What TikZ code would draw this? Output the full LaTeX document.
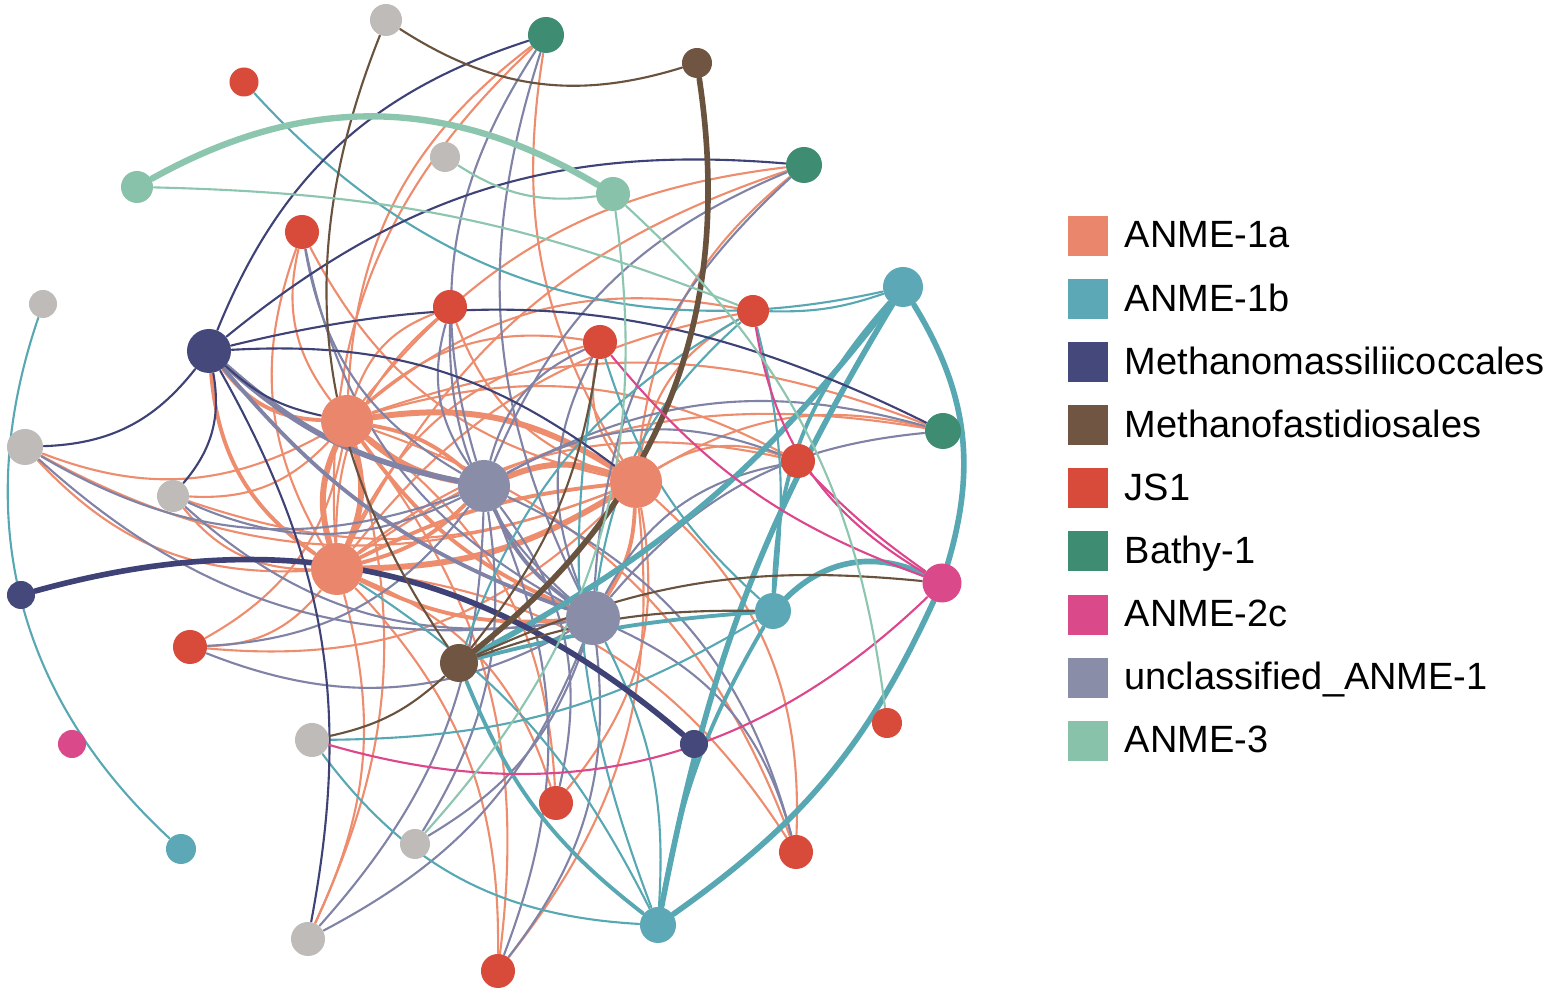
\documentclass[tikz,border=0pt]{standalone}
\usepackage{fontspec}
\setmainfont{Liberation Sans}
\pgfdeclarelayer{bg}
\pgfsetlayers{bg,main}
\definecolor{cSa}{RGB}{233,134,108}
\definecolor{cTl}{RGB}{92,168,182}
\definecolor{cNv}{RGB}{68,72,122}
\definecolor{cMf}{RGB}{112,86,66}
\definecolor{cJs}{RGB}{216,74,58}
\definecolor{cBt}{RGB}{62,140,114}
\definecolor{cPk}{RGB}{218,74,138}
\definecolor{cUc}{RGB}{138,141,168}
\definecolor{cA3}{RGB}{137,194,171}
\definecolor{cGr}{RGB}{190,187,185}
\definecolor{eSa}{RGB}{238,140,110}
\definecolor{eTl}{RGB}{88,168,180}
\definecolor{eNv}{RGB}{62,66,118}
\definecolor{eMf}{RGB}{105,82,62}
\definecolor{ePk}{RGB}{220,70,140}
\definecolor{eUc}{RGB}{128,131,166}
\definecolor{eA3}{RGB}{140,198,175}
\tikzset{
  nd/.style={circle, draw=none, inner sep=0pt, minimum size=#1},
  sq/.style={rectangle, draw=none, inner sep=0pt, minimum size=0.40cm},
  lab/.style={anchor=base west, inner sep=0pt, font=\fontsize{10.8pt}{13pt}\selectfont},
  ed/.style={line cap=round},
  sa1/.style={ed, draw=eSa, line width=0.6pt},
  sa2/.style={ed, draw=eSa, line width=1.1pt},
  sa3/.style={ed, draw=eSa, line width=1.7pt},
  uc1/.style={ed, draw=eUc, line width=0.6pt},
  uc2/.style={ed, draw=eUc, line width=1.1pt},
  uc3/.style={ed, draw=eUc, line width=1.6pt},
  tl1/.style={ed, draw=eTl, line width=0.6pt},
  tl2/.style={ed, draw=eTl, line width=1.1pt},
  tl3/.style={ed, draw=eTl, line width=1.6pt},
  nv1/.style={ed, draw=eNv, line width=0.6pt},
  nv3/.style={ed, draw=eNv, line width=1.6pt},
  mf1/.style={ed, draw=eMf, line width=0.6pt},
  mf3/.style={ed, draw=eMf, line width=1.6pt},
  pk1/.style={ed, draw=ePk, line width=0.6pt},
  a31/.style={ed, draw=eA3, line width=0.6pt},
  a33/.style={ed, draw=eA3, line width=1.8pt}
}
\begin{document}
\begin{tikzpicture}[x=0.01cm,y=0.01cm]
\useasboundingbox (0,0) rectangle (1559,997);

% grey nodes
\node[nd=0.32cm, fill=cGr] (g1) at (386,977) {};
\node[nd=0.30cm, fill=cGr] (g2) at (445,840) {};
\node[nd=0.28cm, fill=cGr] (g3) at (43,693) {};
\node[nd=0.36cm, fill=cGr] (g4) at (25,550) {};
\node[nd=0.32cm, fill=cGr] (g5) at (173,501) {};
\node[nd=0.34cm, fill=cGr] (g6) at (312,257) {};
\node[nd=0.30cm, fill=cGr] (g7) at (415,153) {};
\node[nd=0.34cm, fill=cGr] (g8) at (308,58) {};
% Bathy-1
\node[nd=0.36cm, fill=cBt] (b1) at (546,962) {};
\node[nd=0.36cm, fill=cBt] (b2) at (804,832) {};
\node[nd=0.36cm, fill=cBt] (b3) at (943,566) {};
% Methanofastidiosales
\node[nd=0.30cm, fill=cMf] (m1) at (697,934) {};
\node[nd=0.38cm, fill=cMf] (m2) at (459,334) {};
% JS1
\node[nd=0.29cm, fill=cJs] (r1) at (244,915) {};
\node[nd=0.34cm, fill=cJs] (r2) at (302,765) {};
\node[nd=0.34cm, fill=cJs] (r3) at (450,690) {};
\node[nd=0.34cm, fill=cJs] (r4) at (600,655) {};
\node[nd=0.32cm, fill=cJs] (r5) at (753,686) {};
\node[nd=0.34cm, fill=cJs] (r6) at (798,536) {};
\node[nd=0.34cm, fill=cJs] (r7) at (190,350) {};
\node[nd=0.30cm, fill=cJs] (r8) at (887,274) {};
\node[nd=0.34cm, fill=cJs] (r9) at (556,194) {};
\node[nd=0.34cm, fill=cJs] (r10) at (796,145) {};
\node[nd=0.34cm, fill=cJs] (r11) at (498,26) {};
% ANME-3
\node[nd=0.32cm, fill=cA3] (a3a) at (137,810) {};
\node[nd=0.34cm, fill=cA3] (a3b) at (613,803) {};
% Methanomassiliicoccales
\node[nd=0.44cm, fill=cNv] (n1) at (209,646) {};
\node[nd=0.28cm, fill=cNv] (n2) at (21,402) {};
\node[nd=0.28cm, fill=cNv] (n3) at (694,253) {};
% ANME-1a
\node[nd=0.52cm, fill=cSa] (s1) at (347,576) {};
\node[nd=0.52cm, fill=cSa] (s2) at (636,515) {};
\node[nd=0.52cm, fill=cSa] (s3) at (337,428) {};
% unclassified ANME-1
\node[nd=0.52cm, fill=cUc] (u1) at (484,511) {};
\node[nd=0.54cm, fill=cUc] (u2) at (593,379) {};
% ANME-1b
\node[nd=0.40cm, fill=cTl] (t1) at (903,710) {};
\node[nd=0.36cm, fill=cTl] (t2) at (773,386) {};
\node[nd=0.30cm, fill=cTl] (t3) at (181,148) {};
\node[nd=0.36cm, fill=cTl] (t4) at (658,72) {};
% ANME-2c
\node[nd=0.28cm, fill=cPk] (p1) at (72,253) {};
\node[nd=0.39cm, fill=cPk] (p2) at (942,414) {};

\begin{pgfonlayer}{bg}
\fill[white] (0,0) rectangle (1559,997);
% ANME-1a edges
\foreach \a/\b/\k in {g4/s1/25, g4/s3/25, g4/s2/25, g5/s1/25, g5/s3/25, g5/s2/20,
  r2/s1/25, r2/s3/25, r2/s2/25, r3/s1/25, r3/s3/25, r3/s2/25,
  r4/s1/25, r4/s3/25, r4/s2/25, b1/s1/25, b1/s3/25, b1/s2/20,
  b2/s1/22, b2/s3/22, b2/s2/22, b3/s1/20, b3/s3/22, b3/s2/22,
  r6/s1/22, r6/s3/25, r6/s2/25, r7/s1/25, r7/s3/25, r7/s2/25,
  g8/s1/20, g8/s3/20, r11/s1/22, r11/s3/22, r11/s2/22,
  r9/s1/25, r9/s3/25, r9/s2/25, r10/s1/25, r10/s3/25, r10/s2/25,
  r5/s2/25, r5/s1/25, r5/s3/20}
  \draw[sa1] (\a) to[bend right=\k] (\b);
\foreach \a/\b/\k in {n1/s1/25, n1/s3/25, s3/u1/15, u2/s2/15, s3/u2/15, s1/u2/15, s2/s3/10, u1/s1/15}
  \draw[sa2] (\a) to[bend right=\k] (\b);
\foreach \a/\b/\k in {s2/s1/20, s3/s2/15, s1/s3/20, s3/s1/20, s1/u1/15, s2/u1/20}
  \draw[sa3] (\a) to[bend right=\k] (\b);
% unclassified ANME-1 edges
\foreach \a/\b/\k in {r2/u1/25, r2/u2/25, b1/u1/25, b1/u2/22, b2/u1/22, b2/u2/22,
  b3/u1/22, b3/u2/22, g4/u1/25, g4/u2/25, g5/u1/25, g5/u2/25,
  r7/u1/25, r7/u2/25, r11/u1/22, r11/u2/22, g8/u1/20, g8/u2/20,
  r9/u1/25, r10/u1/25, r10/u2/25, r3/u1/25, r3/u2/25, r6/u1/25, r6/u2/25,
  g7/u1/20, g7/u2/20, r4/u2/25, r4/u1/25}
  \draw[uc1] (\a) to[bend right=\k] (\b);
\foreach \a/\b/\k in {n1/u2/15, u1/u2/15}
  \draw[uc2] (\a) to[bend right=\k] (\b);
\draw[uc3] (n1) to[bend right=15] (u1);
% ANME-1b edges
\foreach \a/\b/\k in {t1/t4/10, p2/t1/24, p2/t2/35, t4/p2/15, m2/t1/12}
  \draw[tl3] (\a) to[bend right=\k] (\b);
\foreach \a/\b/\k in {t1/t2/20, t2/t4/10, m2/t4/15, t2/m2/5}
  \draw[tl2] (\a) to[bend right=\k] (\b);
\foreach \a/\b/\k in {r1/t1/30, r5/t1/10, g3/t3/33, g6/t4/25, g6/t2/15,
  r4/t4/15, r4/t2/15, r5/u2/20, t4/u2/15, t4/s3/15, r5/t2/-10, r5/m2/20}
  \draw[tl1] (\a) to[bend right=\k] (\b);
% Methanomassiliicoccales edges
\foreach \a/\b/\k in {b1/n1/25, b2/n1/22, b3/n1/20, g4/n1/25, g5/n1/25,
  g8/n1/20, s2/n1/20, n1/s1/15}
  \draw[nv1] (\a) to[bend right=\k] (\b);
\draw[nv3] (n3) to[bend right=28] (n2);
% Methanofastidiosales edges
\foreach \a/\b/\k in {g1/m1/25, g1/m2/28, m2/r4/15, p2/m2/15, t2/m2/10, g6/m2/15}
  \draw[mf1] (\a) to[bend right=\k] (\b);
\draw[mf3] (m2) to[bend right=30] (m1);
% ANME-2c edges
\foreach \a/\b/\k in {g6/p2/30, r4/p2/15, r5/p2/25, r6/p2/5}
  \draw[pk1] (\a) to[bend right=\k] (\b);
% ANME-3 edges
\draw[a33] (a3b) to[bend right=30] (a3a);
\foreach \a/\b/\k in {r5/a3a/10, g2/a3b/20, g7/a3b/25, r8/a3b/20}
  \draw[a31] (\a) to[bend right=\k] (\b);
\end{pgfonlayer}

% legend
\node[sq, fill=cSa] (k1) at (1088,761) {};
\node[sq, fill=cTl] (k2) at (1088,697.9) {};
\node[sq, fill=cNv] (k3) at (1088,634.8) {};
\node[sq, fill=cMf] (k4) at (1088,571.7) {};
\node[sq, fill=cJs] (k5) at (1088,508.6) {};
\node[sq, fill=cBt] (k6) at (1088,445.5) {};
\node[sq, fill=cPk] (k7) at (1088,382.4) {};
\node[sq, fill=cUc] (k8) at (1088,319.3) {};
\node[sq, fill=cA3] (k9) at (1088,256.2) {};
\node[lab] (l1) at (1124,749) {ANME-1a};
\node[lab] (l2) at (1124,685.9) {ANME-1b};
\node[lab] (l3) at (1124,622.8) {Methanomassiliicoccales};
\node[lab] (l4) at (1124,559.7) {Methanofastidiosales};
\node[lab] (l5) at (1124,496.6) {JS1};
\node[lab] (l6) at (1124,433.5) {Bathy-1};
\node[lab] (l7) at (1124,370.4) {ANME-2c};
\node[lab] (l8) at (1124,307.3) {unclassified\_ANME-1};
\node[lab] (l9) at (1124,244.2) {ANME-3};
\end{tikzpicture}
\end{document}
